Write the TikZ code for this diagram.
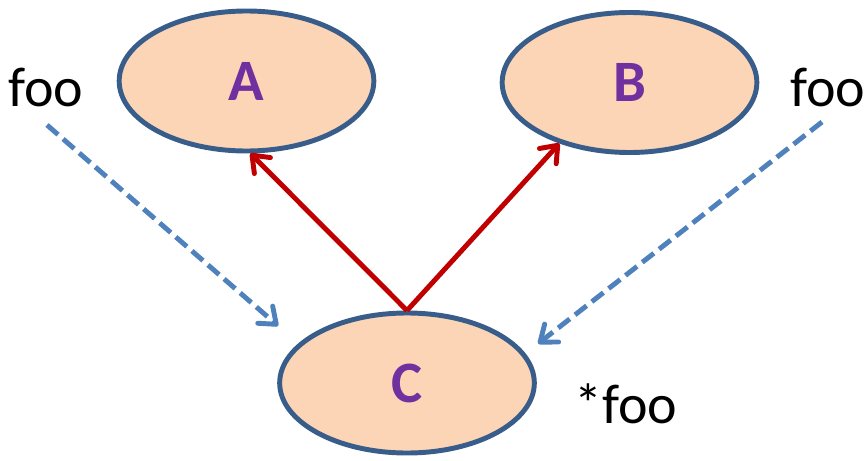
\documentclass[tikz,border=0pt]{standalone}
\usepackage{fontspec}
\setmainfont{Carlito}
\usetikzlibrary{arrows.meta,shapes.geometric}

\definecolor{nodefill}{RGB}{251,213,181}
\definecolor{nodeline}{RGB}{56,93,138}
\definecolor{linkred}{RGB}{192,0,0}
\definecolor{linkblue}{RGB}{79,129,189}
\definecolor{labelpurple}{RGB}{112,48,160}

\tikzset{every picture/.style={line width=0.75pt}}
\tikzset{
  blob/.style={ellipse, draw=nodeline, fill=nodefill, line width=3.7pt,
    minimum width=191pt, minimum height=105pt, inner sep=0pt,
    text=labelpurple, font=\fontsize{44}{50}\selectfont\bfseries},
  tag/.style={inner sep=0.75pt, font=\fontsize{42}{50}\selectfont},
  openhead/.style={-{Straight Barb[length=11pt,width=17pt,round]}},
  redlink/.style={openhead, draw=linkred, line width=3.7pt},
  bluelink/.style={openhead, draw=linkblue, line width=3.7pt, dash pattern=on 11pt off 5pt}
}

\begin{document}
\begin{tikzpicture}[x=0.75pt,y=0.75pt,yscale=-1,xscale=1]
\useasboundingbox (0,0) rectangle (866,460);
%Shape: Ellipse [A]
\node [blob] (A) at (246.5,81) {A};
%Shape: Ellipse [B]
\node [blob] (B) at (629.5,82.5) {B};
%Shape: Ellipse [C]
\node [blob] (C) at (407,383) {C};

% Text Node
\node [tag] (fooL) at (46,87) {foo};
% Text Node
\node [tag] (fooR) at (828,87) {foo};
% Text Node
\node [tag] (starfoo) at (626,404) {*foo};

%Free ends of the dashed links
\coordinate (fooLtail) at (47,125);
\coordinate (fooRtail) at (822,122);

%Straight Lines
\draw [redlink] (C.north) -- (A.-87);
\draw [redlink] (C.north) -- (B.-139.5);
%Dashed Lines (stop short of C)
\draw [bluelink, shorten >=20pt] (fooLtail) -- (C.160.5);
\draw [bluelink, shorten >=12pt] (fooRtail) -- (C.14.4);
\end{tikzpicture}
\end{document}
